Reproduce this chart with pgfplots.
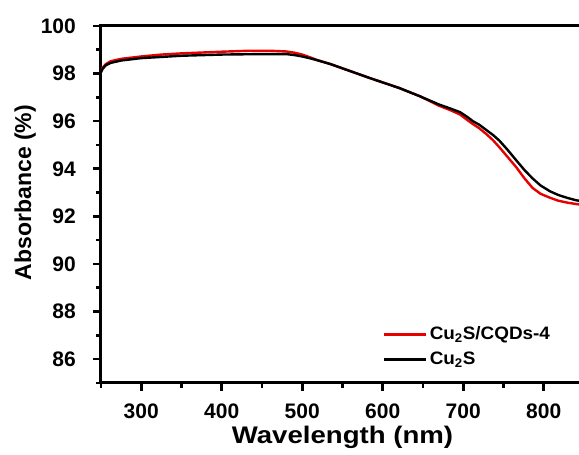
\documentclass[border=0pt]{standalone}
\usepackage{fontspec}
\setmainfont{Liberation Sans}
\newfontfamily\widefont{Liberation Sans}[FakeStretch=1.15]
\newfontfamily\legfont{Liberation Sans}[FakeStretch=1.05]
\usepackage{pgfplots}
\pgfplotsset{compat=1.18}
\definecolor{myred}{RGB}{230,0,0}
\begin{document}
\begin{tikzpicture}
\useasboundingbox (0,0) rectangle (579pt,455pt);
\clip (0,0) rectangle (579pt,455pt);
\begin{axis}[
  at={(101pt,72pt)}, anchor=south west,
  scale only axis, width=483pt, height=357pt,
  xmin=250, xmax=850, ymin=85, ymax=100,
  xtick={300,400,...,800}, minor xtick={250,350,...,850},
  ytick={86,88,...,100}, minor ytick={85,87,...,99},
  tick align=outside, tick pos=left,
  major tick length=8pt, minor tick length=5pt,
  tick style={line width=2.6pt, black},
  axis line style={line width=3pt},
  /pgf/number format/assume math mode=true,
  /pgf/number format/1000 sep={},
  ticklabel style={font=\bfseries\fontsize{21}{21}\selectfont},
  xticklabel style={inner sep=0pt, yshift=-13pt},
  yticklabel style={inner sep=0pt, xshift=-17pt},
  xlabel={\widefont\bfseries Wavelength (nm)},
  ylabel={Absorbance (\%)},
  xlabel style={font=\bfseries\fontsize{24}{24}\selectfont, at={(axis description cs:0.5,0)}, anchor=north, yshift=-43pt, inner sep=0pt},
  ylabel style={font=\bfseries\fontsize{23}{23}\selectfont, at={(axis description cs:0,0.5)}, anchor=south, yshift=65pt, xshift=12pt, inner sep=0pt},
  legend style={draw=none, fill=none, at={(axis cs:600,87.45)}, anchor=north west,
    font=\legfont\bfseries\fontsize{18}{18}\selectfont, row sep=7pt, inner sep=0pt},
  legend cell align=left,
]
\addplot[myred, line width=2.4pt] coordinates {
(250,98.1) (252,98.25) (256,98.4) (262,98.52) (275,98.62) (300,98.72) (325,98.8)
(350,98.85) (400,98.92) (434,98.96) (460,98.96) (480,98.93) (490,98.88) (500,98.8)
(510,98.68) (520,98.55) (535,98.4) (550,98.22)
(585,97.8) (620,97.4) (646,97.05) (670,96.65) (685,96.45) (696,96.28) (705,96.05)
(712,95.88) (720,95.7) (729,95.45) (737,95.2) (745,94.9) (755,94.5) (766,94.06)
(776,93.6) (786,93.2) (796,92.95) (808,92.78) (818,92.66) (829,92.58) (840,92.52) (850,92.48)
};
\addlegendimage{legend image code/.code={\draw[myred, line width=2.8pt] (0pt,0pt) -- (42pt,0pt);}}
\addplot[black, line width=2.4pt] coordinates {
(250,98.05) (252,98.2) (256,98.35) (262,98.45) (275,98.55) (300,98.65) (325,98.7)
(350,98.75) (400,98.8) (450,98.82) (480,98.82) (490,98.78) (500,98.72) (510,98.64)
(520,98.55) (535,98.4) (550,98.22)
(585,97.8) (620,97.4) (646,97.05) (670,96.7) (685,96.52) (696,96.38) (705,96.18)
(712,96.0) (720,95.85) (729,95.62) (737,95.42) (745,95.18) (755,94.8) (766,94.35)
(776,93.95) (786,93.6) (796,93.3) (808,93.05) (818,92.9) (829,92.78) (840,92.68) (850,92.62)
};
\legend{}
\end{axis}
\begin{axis}[
  at={(101pt,72pt)}, anchor=south west,
  scale only axis, width=483pt, height=357pt,
  xmin=250, xmax=850, ymin=85, ymax=100,
  hide axis,
  legend style={draw=none, fill=none, at={(axis cs:600,87.45)}, anchor=north west,
    font=\legfont\bfseries\fontsize{18}{18}\selectfont, row sep=7pt, inner sep=0pt},
  legend cell align=left,
  legend image code/.code={\draw[#1, line width=2.8pt] (0pt,0pt) -- (42pt,0pt);},
]
\addlegendimage{myred}
\addlegendentry{Cu\textsubscript{2}S/CQDs-4}
\addlegendimage{black}
\addlegendentry{Cu\textsubscript{2}S}
\end{axis}
\end{tikzpicture}
\end{document}
